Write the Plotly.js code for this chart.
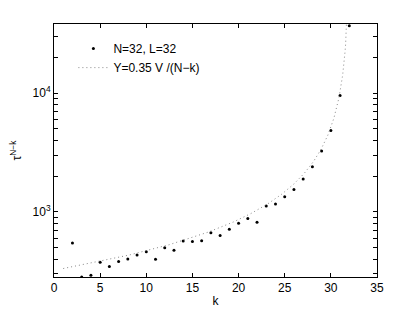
<!DOCTYPE html>
<html>
<head>
<meta charset="utf-8">
<script src="https://cdn.plot.ly/plotly-3.0.1.min.js"></script>
<style>html,body{margin:0;padding:0;background:#fff;}#chart{width:415px;height:312px;}</style>
</head>
<body>
<div id="chart"></div>
<script>
// Measured data: N=32, L=32
const kValues = [2,3,4,5,6,7,8,9,10,11,12,13,14,15,16,17,18,19,20,21,22,23,24,25,26,27,28,29,30,31,32];
const tauValues = [546,283,292,376,346,381,401,433,462,398,499,474,568,564,571,667,632,714,802,879,819,1123,1167,1344,1546,1890,2398,3266,4865,9570,37150];

// Model curve Y = 0.35 V /(N-k)
const N = 32;
const V = 29500;
const coef = 0.35;
const curveK = [];
const curveY = [];
for (let k = 1; k <= 31.98; k += 0.05) {
  curveK.push(k);
  curveY.push(coef * V / (N - k));
}

const yTickVals = [300,400,500,600,700,800,900,1000,2000,3000,4000,5000,6000,7000,8000,9000,10000,20000,30000];
const yTickText = yTickVals.map(v => v === 1000 ? '10<sup>3</sup>' : (v === 10000 ? '10<sup>4</sup>' : ''));
const xTickVals = [0,5,10,15,20,25,30,35];

const font = {family: 'Liberation Sans, Arial, sans-serif', size: 12, color: '#000'};

Plotly.newPlot('chart', [
  {
    x: kValues, y: tauValues, type: 'scatter', mode: 'markers',
    name: 'N=32, L=32',
    marker: {color: '#000', size: 3, symbol: 'circle'},
    cliponaxis: true
  },
  {
    x: curveK, y: curveY, type: 'scatter', mode: 'lines',
    name: 'Y=0.35 V /(N\u2212k)',
    line: {color: '#888', width: 1, dash: '1px,3px'}
  }
], {
  width: 415, height: 312,
  margin: {l: 54, r: 38, t: 24, b: 35},
  paper_bgcolor: '#fff', plot_bgcolor: '#fff',
  font: font,
  showlegend: true,
  legend: {x: 0.06, y: 0.96, xanchor: 'left', yanchor: 'top', bgcolor: 'rgba(0,0,0,0)', borderwidth: 0, font: {family: font.family, size: 12}, itemwidth: 30, tracegroupgap: 0},
  xaxis: {
    range: [0, 35], tickvals: xTickVals, ticks: 'inside', ticklen: 4, tickcolor: '#000',
    showline: true, linecolor: '#000', linewidth: 1, mirror: 'ticks', showgrid: false, zeroline: false,
    title: {text: 'k', font: font, standoff: 2}, tickfont: font
  },
  yaxis: {
    type: 'log', range: [2.451, 4.584], tickvals: yTickVals, ticktext: yTickText,
    ticks: 'inside', ticklen: 4, tickcolor: '#000',
    showline: true, linecolor: '#000', linewidth: 1, mirror: 'ticks', showgrid: false, zeroline: false,
    title: {text: '\u03c4<sup>N\u2212k</sup>', font: font, standoff: 8}, tickfont: font
  }
}, {displayModeBar: false, staticPlot: true});
</script>
</body>
</html>
